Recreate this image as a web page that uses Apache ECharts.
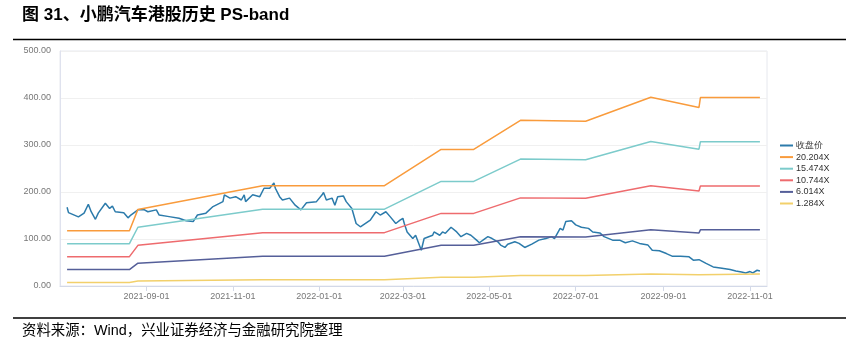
<!DOCTYPE html>
<html>
<head>
<meta charset="utf-8">
<script src="https://cdn.jsdelivr.net/npm/echarts@6/dist/echarts.min.js"></script>
<style>
  html, body { margin: 0; padding: 0; background: #fff; }
  #chart { width: 846px; height: 353px; }
</style>
</head>
<body>
<div id="chart"></div>
<script>
// 估值带：各倍数对应的价格（断点日期）
const bandDates = ['2021-07-07', '2021-08-20', '2021-08-26', '2021-11-22', '2022-02-16', '2022-03-28',
  '2022-04-20', '2022-05-23', '2022-07-08', '2022-08-23', '2022-09-26', '2022-09-27', '2022-11-08']
const band20 = [117.5, 117.5, 163, 213.5, 213.5, 290.5, 290.5, 352.5, 350.5, 401.5, 380, 401, 401]
const band15 = [90, 90, 125, 163.5, 163.5, 222.5, 222.5, 270, 268.5, 307.5, 291, 307, 307]
const band10 = [62.5, 62.5, 86.5, 113.5, 113.5, 154.5, 154.5, 187.5, 186.5, 213.5, 202, 213, 213]
const band6 = [35, 35, 48.5, 63.5, 63.5, 86.5, 86.5, 105, 104.5, 119.5, 113, 119.5, 119.5]
const band1 = [7.5, 7.5, 10.5, 13.5, 13.5, 18.5, 18.5, 22.5, 22.5, 25.5, 24, 25.5, 25.5]

// 收盘价
const priceDates = [
  '2021-07-07', '2021-07-08', '2021-07-15', '2021-07-19', '2021-07-22', '2021-07-24', '2021-07-27', '2021-07-29',
  '2021-08-03', '2021-08-06', '2021-08-08', '2021-08-10', '2021-08-16', '2021-08-19', '2021-08-21', '2021-08-26',
  '2021-08-30', '2021-09-02', '2021-09-08', '2021-09-10', '2021-09-17', '2021-09-24', '2021-09-29', '2021-10-04',
  '2021-10-07', '2021-10-13', '2021-10-18', '2021-10-25', '2021-10-26', '2021-10-30', '2021-11-03', '2021-11-07',
  '2021-11-09', '2021-11-10', '2021-11-15', '2021-11-20', '2021-11-23', '2021-11-27', '2021-11-30', '2021-12-01',
  '2021-12-04', '2021-12-06', '2021-12-11', '2021-12-15', '2021-12-19', '2021-12-23', '2021-12-30', '2022-01-03',
  '2022-01-04', '2022-01-06', '2022-01-10', '2022-01-12', '2022-01-14', '2022-01-18', '2022-01-20', '2022-01-24',
  '2022-01-27', '2022-01-30', '2022-02-06', '2022-02-10', '2022-02-13', '2022-02-17', '2022-02-20', '2022-02-24',
  '2022-02-27', '2022-03-01', '2022-03-02', '2022-03-04', '2022-03-08', '2022-03-10', '2022-03-14', '2022-03-16',
  '2022-03-22', '2022-03-23', '2022-03-27', '2022-03-29', '2022-03-31', '2022-04-04', '2022-04-08', '2022-04-11',
  '2022-04-15', '2022-04-18', '2022-04-22', '2022-04-24', '2022-04-28', '2022-04-30', '2022-05-03', '2022-05-07',
  '2022-05-09', '2022-05-12', '2022-05-14', '2022-05-19', '2022-05-22', '2022-05-26', '2022-05-31', '2022-06-05',
  '2022-06-10', '2022-06-14', '2022-06-16', '2022-06-20', '2022-06-22', '2022-06-24', '2022-06-28', '2022-07-01',
  '2022-07-05', '2022-07-10', '2022-07-13', '2022-07-18', '2022-07-21', '2022-07-27', '2022-08-01', '2022-08-05',
  '2022-08-10', '2022-08-15', '2022-08-21', '2022-08-24', '2022-08-29', '2022-09-03', '2022-09-07', '2022-09-13',
  '2022-09-19', '2022-09-22', '2022-09-26', '2022-10-01', '2022-10-06', '2022-10-11', '2022-10-18', '2022-10-22',
  '2022-10-26', '2022-10-29', '2022-11-01', '2022-11-03', '2022-11-06', '2022-11-08'
]
const priceValues = [
  167.5, 156, 147, 155, 174, 158, 142, 155,
  176, 165, 170, 158, 156, 145, 151, 162,
  163, 158, 162, 151, 147.6, 144, 139, 137,
  151, 155, 169, 179.5, 194, 187, 190, 183,
  194, 179.5, 194, 190, 208, 208, 219, 208,
  190, 183, 187, 172, 162, 177, 179.5, 194,
  199, 183, 187, 172, 190, 191.7, 179.5, 165,
  133, 126, 140, 158, 151, 158, 147.6, 133,
  140, 144, 133, 115, 101, 108, 76, 101,
  108, 115, 108, 115, 112, 125, 115, 105,
  112, 108, 97.6, 92, 101, 105, 101, 94,
  87, 82, 89, 94, 90.6, 82, 89, 97.6,
  101, 105, 101, 122.6, 119, 137, 139, 130,
  125, 122.6, 115, 113, 105, 97.6, 97.6, 92,
  96, 90.6, 87, 76, 75, 69, 63.5, 63.5,
  62, 55, 56, 48, 40.6, 38.5, 35, 32,
  30, 27.8, 30.7, 27.8, 33.5, 32
]

const yTicks = [0, 100, 200, 300, 400, 500]

const pad = n => (n < 10 ? '0' + n : '' + n)
const fmtDate = v => {
  const d = new Date(v)
  return d.getFullYear() + '-' + pad(d.getMonth() + 1) + '-' + pad(d.getDate())
}
const zip = (dates, vals) => dates.map((d, i) => [d, vals[i]])

const chart = echarts.init(document.getElementById('chart'))

const lineSeries = (name, dates, vals, color) => ({
  name,
  type: 'line',
  data: zip(dates, vals),
  showSymbol: false,
  symbol: 'none',
  lineStyle: { width: 1.5, color },
  itemStyle: { color }
})

const option = {
  backgroundColor: '#fff',
  animation: false,
  title: [
    {
      text: '图 31、小鹏汽车港股历史 PS-band',
      left: 22,
      top: 7,
      padding: 0,
      textStyle: {
        fontSize: 17,
        fontWeight: 'bold',
        color: '#000',
        fontFamily: 'Liberation Sans, Noto Sans CJK SC'
      }
    },
    {
      text: '资料来源：Wind，兴业证券经济与金融研究院整理',
      left: 22,
      top: 324,
      padding: 0,
      textStyle: {
        fontSize: 14.4,
        fontWeight: 'normal',
        color: '#000',
        fontFamily: 'Liberation Sans, Noto Sans CJK SC'
      }
    }
  ],
  graphic: [
    { type: 'line', shape: { x1: 13, y1: 39.5, x2: 846, y2: 39.5 }, style: { stroke: '#000', lineWidth: 1.5 } },
    { type: 'line', shape: { x1: 13, y1: 318, x2: 846, y2: 318 }, style: { stroke: '#000', lineWidth: 1.5 } }
  ],
  legend: {
    orient: 'vertical',
    left: 775,
    top: 136,
    itemWidth: 13,
    itemHeight: 2,
    itemGap: 2.6,
    icon: 'rect',
    textStyle: { fontSize: 9, color: '#333', padding: [0, 0, 0, -2] },
    data: ['收盘价', '20.204X', '15.474X', '10.744X', '6.014X', '1.284X']
  },
  grid: {
    left: 60,
    right: 79,
    top: 51,
    bottom: 67,
    show: true,
    borderColor: '#e6e8ee',
    borderWidth: 1
  },
  xAxis: {
    type: 'time',
    min: '2021-07-02',
    max: '2022-11-13',
    splitNumber: 7,
    axisLine: { lineStyle: { color: '#d3d9e8' } },
    axisTick: { show: true, length: 5, lineStyle: { color: '#d3d9e8' } },
    splitLine: { show: false },
    axisLabel: {
      fontSize: 9,
      color: '#777',
      margin: 6,
      showMinLabel: false,
      showMaxLabel: false,
      formatter: v => fmtDate(v)
    }
  },
  yAxis: {
    type: 'value',
    min: yTicks[0],
    max: yTicks[yTicks.length - 1],
    interval: 100,
    axisLine: { show: true, lineStyle: { color: '#dfe2ee' } },
    axisTick: { show: false },
    splitLine: { lineStyle: { color: '#f0f0f0' } },
    axisLabel: {
      fontSize: 9,
      color: '#777',
      margin: 9,
      formatter: v => v.toFixed(2)
    }
  },
  series: [
    lineSeries('收盘价', priceDates, priceValues, '#2c7bab'),
    lineSeries('20.204X', bandDates, band20, '#f99b3c'),
    lineSeries('15.474X', bandDates, band15, '#7ccbcb'),
    lineSeries('10.744X', bandDates, band10, '#ee6b6e'),
    lineSeries('6.014X', bandDates, band6, '#555f99'),
    lineSeries('1.284X', bandDates, band1, '#f2d06b')
  ]
}

chart.setOption(option)
</script>
</body>
</html>
